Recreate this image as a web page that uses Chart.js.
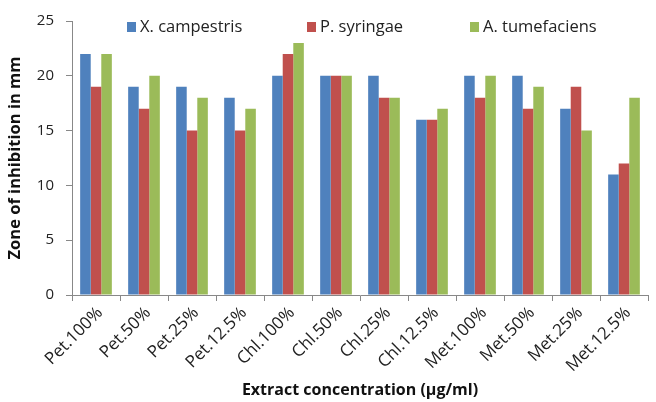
<!DOCTYPE html>
<html>
<head>
<meta charset="utf-8">
<script src="https://cdn.jsdelivr.net/npm/chart.js@4.4.0/dist/chart.umd.min.js"></script>
<style>
  html, body { margin: 0; padding: 0; background: #fff; }
  #wrap { width: 656px; height: 402px; }
</style>
</head>
<body>
<div id="wrap"><canvas id="zoneChart"></canvas></div>
<script>
const categories = ['Pet.100%', 'Pet.50%', 'Pet.25%', 'Pet.12.5%', 'Chl.100%', 'Chl.50%',
  'Chl.25%', 'Chl.12.5%', 'Met.100%', 'Met.50%', 'Met.25%', 'Met.12.5%'];
const seriesNames = ['X. campestris', 'P. syringae', 'A. tumefaciens'];
const xCampestris = [22, 19, 19, 18, 20, 20, 20, 16, 20, 20, 17, 11];
const pSyringae = [19, 17, 15, 15, 22, 20, 18, 16, 18, 17, 19, 12];
const aTumefaciens = [22, 20, 18, 17, 23, 20, 18, 17, 20, 19, 15, 18];
const yTicks = [0, 5, 10, 15, 20, 25];

const colors = ['#4F81BD', '#C0504D', '#9BBB59'];
const fontFamily = '"Open Sans", Lato, sans-serif';

// legend sits inside the top of the plot, like the original
const topLegend = {
  id: 'topLegend',
  afterDraw(chart) {
    const ctx = chart.ctx;
    const xs = [127, 307, 470];
    ctx.save();
    ctx.font = '16.5px ' + fontFamily;
    ctx.textBaseline = 'middle';
    seriesNames.forEach((name, i) => {
      ctx.fillStyle = colors[i];
      ctx.fillRect(xs[i], 22, 9, 10);
      ctx.fillStyle = '#222';
      ctx.fillText(name, xs[i] + 13, 27);
    });
    ctx.restore();
  }
};

const ctx = document.getElementById('zoneChart');
new Chart(ctx, {
  type: 'bar',
  data: {
    labels: categories,
    datasets: [xCampestris, pSyringae, aTumefaciens].map((vals, i) => ({
      label: seriesNames[i],
      data: vals,
      backgroundColor: colors[i],
      borderWidth: 0,
      barPercentage: 1.0,
      categoryPercentage: 0.66
    }))
  },
  options: {
    responsive: true,
    maintainAspectRatio: false,
    animation: false,
    layout: { padding: { top: 20, right: 8, left: 0, bottom: 0 } },
    plugins: {
      legend: { display: false },
      tooltip: { enabled: false }
    },
    scales: {
      x: {
        afterFit: s => { s.height = 107; s.paddingLeft = 0; s.paddingRight = 0; },
        grid: { display: true, drawOnChartArea: false, offset: true, tickLength: 6, color: '#888' },
        border: { color: '#888' },
        ticks: {
          color: '#222',
          font: { family: fontFamily, size: 17 },
          padding: 2,
          labelOffset: 4,
          maxRotation: 45,
          minRotation: 45,
          autoSkip: false
        },
        title: {
          display: true,
          text: 'Extract concentration (µg/ml)',
          color: '#111',
          font: { family: fontFamily, size: 16, weight: 'bold' },
          padding: { top: 0, bottom: 2 }
        }
      },
      y: {
        min: 0,
        max: 25,
        afterBuildTicks: s => { s.ticks = yTicks.map(v => ({ value: v })); },
        afterFit: s => { s.width = 72; },
        grid: { display: true, drawOnChartArea: false, tickLength: 6, color: '#888' },
        border: { color: '#888' },
        ticks: {
          color: '#222',
          font: { family: fontFamily, size: 15 },
          padding: 12
        },
        title: {
          display: true,
          text: 'Zone of inhibition in mm',
          color: '#111',
          font: { family: fontFamily, size: 16.5, weight: 'bold' },
          padding: { top: 5, bottom: 0 }
        }
      }
    }
  },
  plugins: [topLegend]
});
</script>
</body>
</html>
